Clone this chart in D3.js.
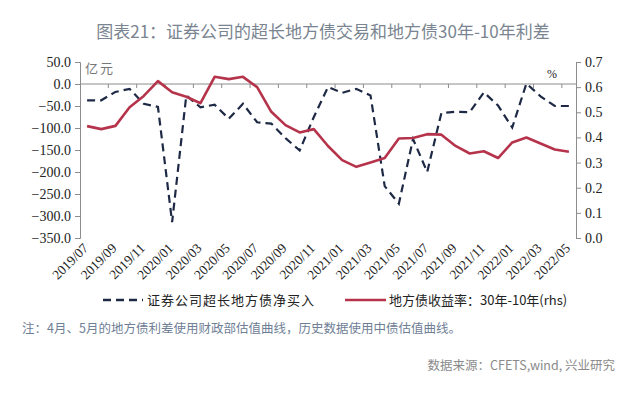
<!DOCTYPE html>
<html>
<head>
<meta charset="utf-8">
<script src="https://cdn.jsdelivr.net/npm/d3@7"></script>
<style>
  body { margin: 0; background: #fff; }
  svg { display: block; }
  .serif { font-family: "Liberation Serif", "Times New Roman", "DejaVu Serif", serif; }
</style>
</head>
<body>
<div id="chart"></div>
<script>
// months 2019/07 .. 2022/05
var months = ["2019/07","2019/08","2019/09","2019/10","2019/11","2019/12",
  "2020/01","2020/02","2020/03","2020/04","2020/05","2020/06","2020/07","2020/08","2020/09","2020/10","2020/11","2020/12",
  "2021/01","2021/02","2021/03","2021/04","2021/05","2021/06","2021/07","2021/08","2021/09","2021/10","2021/11","2021/12",
  "2022/01","2022/02","2022/03","2022/04","2022/05"];

// 证券公司超长地方债净买入 (亿元, left axis)
var netBuy = [-37, -37, -18, -11, -45, -52, -314, -26, -53, -47, -79, -45, -87, -90, -123, -151, -75, -7,
  -20, -11, -26, -232, -272, -125, -200, -66, -63, -64, -19, -49, -99, 1, -28, -50, -50];

// 地方债收益率：30年-10年 (%, right axis)
var spread = [0.445, 0.433, 0.446, 0.52, 0.565, 0.624, 0.58, 0.562, 0.536, 0.641, 0.632, 0.641, 0.60, 0.502, 0.449, 0.42, 0.433, 0.366,
  0.31, 0.283, 0.30, 0.318, 0.396, 0.398, 0.413, 0.411, 0.366, 0.336, 0.345, 0.318, 0.38, 0.40, 0.376, 0.352, 0.343];

var leftTicks = [50, 0, -50, -100, -150, -200, -250, -300, -350];
var rightTicks = [0.7, 0.6, 0.5, 0.4, 0.3, 0.2, 0.1, 0.0];

var w = 640, h = 395;
var margin = {top: 62, left: 80, right: 64, bottom: 157};

var svg = d3.select("#chart").append("svg")
  .attr("width", w)
  .attr("height", h);

var x = d3.scaleBand()
  .domain(months)
  .range([margin.left, w - margin.right]);

var yL = d3.scaleLinear()
  .domain([-350, 50])
  .range([h - margin.bottom, margin.top]);

var yR = d3.scaleLinear()
  .domain([0, 0.7])
  .range([h - margin.bottom, margin.top]);

// title
svg.append("text")
  .attr("x", 323).attr("y", 38)
  .attr("text-anchor", "middle")
  .style("font-family", "'Noto Sans CJK SC', 'Noto Sans', sans-serif")
  .style("font-size", "17px")
  .attr("fill", "#7a8591")
  .text("图表21：证券公司的超长地方债交易和地方债30年-10年利差");

// left axis
var gL = svg.append("g")
  .attr("transform", "translate(" + margin.left + ",0)")
  .call(d3.axisLeft(yL).tickValues(leftTicks).tickSize(5).tickFormat(d3.format(".1f")));

// right axis
var gR = svg.append("g")
  .attr("transform", "translate(" + (w - margin.right) + ",0)")
  .call(d3.axisRight(yR).tickValues(rightTicks).tickSize(5).tickFormat(d3.format(".1f")));

[gL, gR].forEach(function(g){
  g.attr("font-family", null).attr("font-size", null);
  g.select(".domain").attr("stroke", "#8c8c8c");
  g.selectAll(".tick line").attr("stroke", "#8c8c8c");
  g.selectAll(".tick text")
    .attr("class", "serif")
    .style("font-size", "14px")
    .attr("fill", "#222");
});
gL.selectAll(".tick text").attr("x", -9);
gR.selectAll(".tick text").attr("x", 9);

// category axis drawn on the zero line
var boundaries = months.filter(function(d, i){ return i % 2 == 0 && i > 0; });
var gX = svg.append("g");
gX.append("line")
  .attr("x1", margin.left).attr("x2", w - margin.right)
  .attr("y1", yL(0)).attr("y2", yL(0))
  .attr("stroke", "#8c8c8c");
gX.selectAll(".xt")
  .data(boundaries)
  .enter().append("line")
  .attr("x1", function(d){ return x(d); })
  .attr("x2", function(d){ return x(d); })
  .attr("y1", yL(0)).attr("y2", yL(0) + 4)
  .attr("stroke", "#8c8c8c");

// rotated date labels every 2 months
var labelMonths = months.filter(function(d, i){ return i % 2 == 0; });
svg.selectAll(".xlab")
  .data(labelMonths)
  .enter().append("text")
  .attr("class", "serif")
  .attr("transform", function(d){
    return "translate(" + (x(d) + x.bandwidth() / 2 + 2) + "," + (h - margin.bottom + 11) + ") rotate(-45)";
  })
  .attr("text-anchor", "end")
  .style("font-size", "13.5px")
  .attr("fill", "#222")
  .text(function(d){ return d; });

// unit labels
svg.append("text")
  .attr("x", margin.left + 5).attr("y", 73)
  .style("font-family", "'Noto Sans CJK SC', sans-serif")
  .style("font-size", "13px")
  .attr("letter-spacing", 2)
  .attr("fill", "#777")
  .text("亿元");
svg.append("text")
  .attr("class", "serif")
  .attr("x", 547).attr("y", 78)
  .style("font-size", "12px")
  .attr("fill", "#222")
  .text("%");

var cx = function(d, i){ return x(months[i]) + x.bandwidth() / 2; };

// dashed series
var lineL = d3.line()
  .x(function(d, i){ return cx(d, i); })
  .y(function(d){ return yL(d); });

svg.append("path")
  .datum(netBuy)
  .attr("d", lineL)
  .attr("fill", "none")
  .attr("stroke", "#1e2a45")
  .attr("stroke-width", 2.2)
  .attr("stroke-dasharray", "8,5");

// solid series
var lineR = d3.line()
  .x(function(d, i){ return cx(d, i); })
  .y(function(d){ return yR(d); });

svg.append("path")
  .datum(spread)
  .attr("d", lineR)
  .attr("fill", "none")
  .attr("stroke", "#b5344c")
  .attr("stroke-width", 2.6)
  .attr("stroke-linejoin", "round");

// legend
var legY = 300;
var legFont = "'Noto Sans CJK SC', sans-serif";
svg.append("line")
  .attr("x1", 103).attr("x2", 143).attr("y1", legY).attr("y2", legY)
  .attr("stroke", "#1e2a45").attr("stroke-width", 2.5)
  .attr("stroke-dasharray", "8,5");
svg.append("text")
  .attr("x", 147).attr("y", legY + 4.5)
  .style("font-family", legFont)
  .style("font-size", "13px")
  .attr("letter-spacing", 1)
  .attr("fill", "#222")
  .text("证券公司超长地方债净买入");
svg.append("line")
  .attr("x1", 345).attr("x2", 386).attr("y1", legY).attr("y2", legY)
  .attr("stroke", "#b5344c").attr("stroke-width", 2.6);
svg.append("text")
  .attr("x", 389).attr("y", legY + 4.5)
  .style("font-family", legFont)
  .style("font-size", "13px")
  .attr("fill", "#222")
  .text("地方债收益率：30年-10年(rhs)");

// note and source
svg.append("text")
  .attr("x", 22).attr("y", 333)
  .style("font-family", "'Noto Sans CJK SC', sans-serif")
  .style("font-size", "12.5px")
  .attr("fill", "#6f8096")
  .text("注：4月、5月的地方债利差使用财政部估值曲线，历史数据使用中债估值曲线。");

svg.append("text")
  .attr("x", 615).attr("y", 370)
  .attr("text-anchor", "end")
  .style("font-family", "'Noto Sans CJK SC', sans-serif")
  .style("font-size", "12.5px")
  .attr("fill", "#8a8a8a")
  .text("数据来源：CFETS,wind, 兴业研究");
</script>
</body>
</html>
